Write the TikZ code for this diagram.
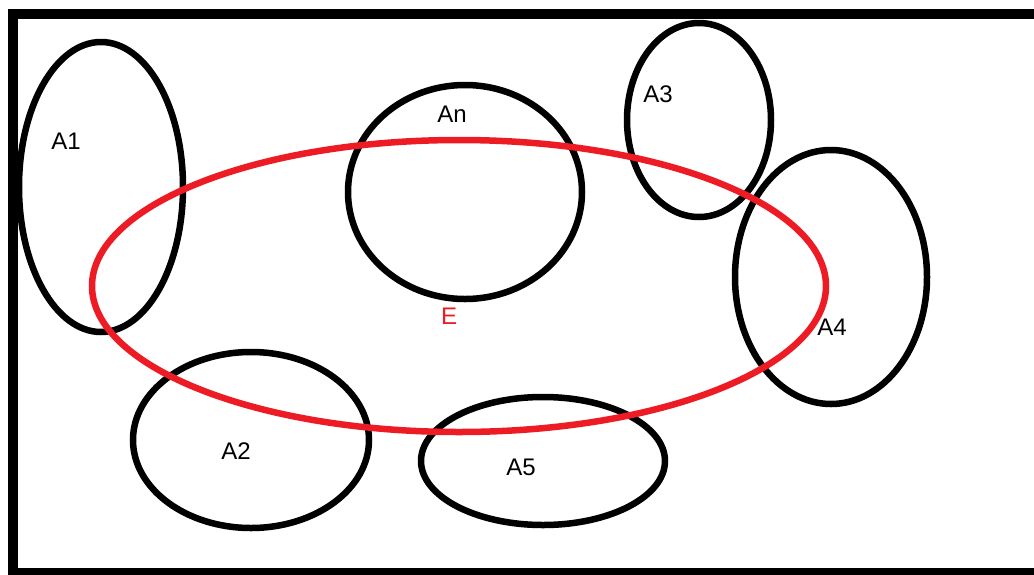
\documentclass[tikz,border=0pt]{standalone}
\usepackage{fontspec}
\setmainfont{Liberation Sans}
\definecolor{ered}{RGB}{237,28,36}
\begin{document}
\begin{tikzpicture}[x=1pt,y=-1pt,
  setline/.style={draw=black,line width=6.5pt},
  lbl/.style={font=\fontsize{24}{26}\selectfont,inner sep=0pt}]
\useasboundingbox (0,0) rectangle (1034,574);
\begin{scope}
\clip (0,0) rectangle (1034,574);
% universe
\draw[line width=10pt] (13,14) rectangle (1100,573);
% subsets
\draw[setline] (101,187) ellipse [x radius=82, y radius=145];
\draw[setline] (465,192) ellipse [x radius=117, y radius=107];
\draw[setline] (699,120) ellipse [x radius=72, y radius=97];
\draw[setline] (831,277) ellipse [x radius=96, y radius=127];
\draw[setline] (251,440) ellipse [x radius=118, y radius=88];
\draw[setline] (543,461) ellipse [x radius=122, y radius=64];
% event E
\draw[draw=ered,line width=6.5pt] (459,286) ellipse [x radius=367, y radius=146];
\end{scope}
\node[lbl] (a1) at (66,141) {A1};
\node[lbl] (an) at (452,114) {An};
\node[lbl] (a3) at (658,94) {A3};
\node[lbl] (a4) at (832,327) {A4};
\node[lbl] (a2) at (236,451) {A2};
\node[lbl] (a5) at (521,467) {A5};
\node[lbl,text=ered] (e) at (449,316) {E};
\end{tikzpicture}
\end{document}
